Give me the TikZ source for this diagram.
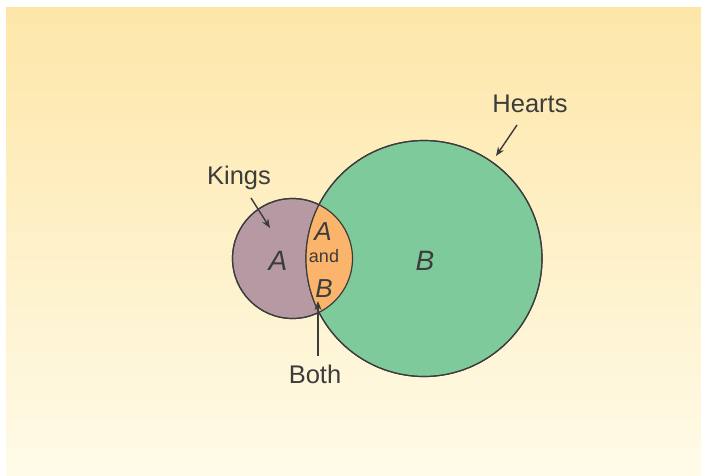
\documentclass[tikz,border=0pt]{standalone}
\usepackage{fontspec}
\setmainfont{Liberation Sans}
\usetikzlibrary{arrows.meta}
\definecolor{bgtop}{RGB}{253,230,168}
\definecolor{bgbot}{RGB}{255,251,232}
\definecolor{setA}{RGB}{182,153,162}
\definecolor{setB}{RGB}{126,202,155}
\definecolor{setAB}{RGB}{250,180,108}
\definecolor{ink}{RGB}{60,60,60}
\tikzset{
  setcircle/.style={circle, inner sep=0pt, draw=ink, line width=1.2pt},
  lbl/.style={anchor=base, inner sep=0pt, text=ink, font=\fontsize{25.5}{28}\selectfont},
  letter/.style={anchor=base, inner sep=0pt, text=ink, font=\fontsize{28}{30}\selectfont\itshape},
  small/.style={anchor=base, inner sep=0pt, text=ink, font=\fontsize{18}{20}\selectfont},
  pointer/.style={draw=ink, line width=1.4pt, -{Stealth[length=9pt,width=7pt]}}
}
\begin{document}
\begin{tikzpicture}[x=1pt,y=-1pt]
\useasboundingbox (0,0) rectangle (701,475);
\shade[top color=bgtop, bottom color=bgbot] (6,7) rectangle (701,475);
% circles
\node[setcircle, fill=setA, minimum size=120pt] (cA) at (292.5,258.5) {};
\node[setcircle, fill=setB, minimum size=236pt] (cB) at (424,258.5) {};
\begin{scope}
  \clip (cA.center) circle (60pt);
  \fill[setAB] (cB.center) circle (118pt);
\end{scope}
\draw[ink, line width=1.2pt] (cA.center) circle (60pt);
\draw[ink, line width=1.2pt] (cB.center) circle (118pt);
% letters
\node[letter] (la) at (278,270) {A};
\node[letter] (lb) at (425,270) {B};
\node[letter, font=\fontsize{26}{28}\selectfont\itshape] (lab1) at (323,240) {A};
\node[small] (land) at (324,262) {and};
\node[letter, font=\fontsize{26}{28}\selectfont\itshape] (lab2) at (324,297) {B};
% labels
\node[lbl] (hearts) at (530,112) {Hearts};
\node[lbl] (kings) at (239,184) {Kings};
\node[lbl] (both) at (315,383) {Both};
% pointers
\coordinate (hs) at (517,125);
\coordinate (ht) at (496,156);
\coordinate (ks) at (251,198);
\coordinate (kt) at (270,228);
\coordinate (bs) at (318,356);
\coordinate (bt) at (318,301);
\draw[pointer] (hs) -- (ht);
\draw[pointer] (ks) -- (kt);
\draw[pointer] (bs) -- (bt);
\end{tikzpicture}
\end{document}
